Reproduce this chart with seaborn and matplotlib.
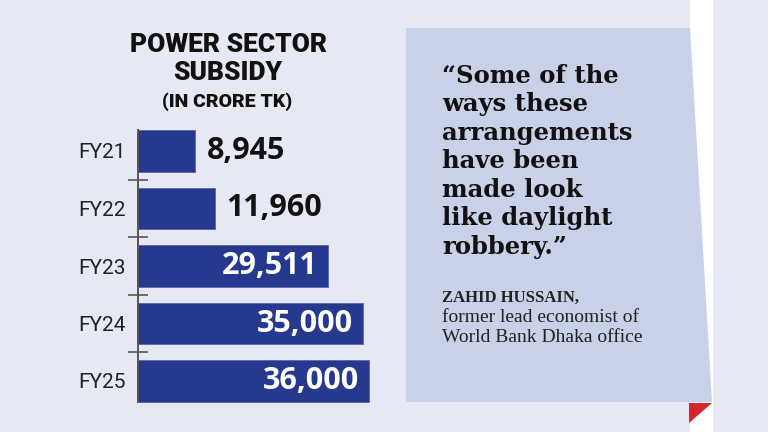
import numpy as np
import pandas as pd
import seaborn as sns
import matplotlib.pyplot as plt
from matplotlib.patches import Polygon, Rectangle

# data
years = ["FY21", "FY22", "FY23", "FY24", "FY25"]
subsidy = [8945, 11960, 29511, 35000, 36000]

title_lines = ["POWER SECTOR", "SUBSIDY"]
unit_line = "(IN CRORE TK)"
quote_lines = ["\u201cSome of the", "ways these", "arrangements", "have been",
               "made look", "like daylight", "robbery.\u201d"]
author = "ZAHID HUSSAIN,"
author_role = ["former lead economist of", "World Bank Dhaka office"]

BG = "#e6e9f4"
PANEL = "#c9d1e8"
BAR = "#27398f"

W, H = 768, 432

def px(x, y):
    return (x / W, 1 - y / H)

sns.set_theme(style="white")
plt.rcParams["font.family"] = ["Roboto", "DejaVu Sans"]

fig = plt.figure(figsize=(7.68, 4.32), dpi=100, facecolor=BG)

# right side quote card
fig.add_artist(Rectangle(px(690, 432), 23 / W, 1, transform=fig.transFigure,
                         facecolor="white", edgecolor="none", zorder=0))
fig.add_artist(Polygon([px(406, 28), px(690, 28), px(712, 402), px(406, 402)],
                       closed=True, transform=fig.transFigure,
                       facecolor=PANEL, edgecolor="none", zorder=1))
fig.add_artist(Polygon([px(689, 403), px(712, 403), px(689, 423)],
                       closed=True, transform=fig.transFigure,
                       facecolor="#d7262b", edgecolor="none", zorder=1))

# bar chart
ax = fig.add_axes([138 / W, 1 - 409.75 / H, 262 / W, 287.5 / H])
ax.set_facecolor("none")
df = pd.DataFrame({"year": years, "value": subsidy})
sns.barplot(data=df, x="value", y="year", orient="h", color=BAR,
            saturation=1, width=0.73, edgecolor="#5566aa", linewidth=0.6, ax=ax)
ax.set_xlim(0, 40800)
ax.set_ylim(4.5, -0.5)
ax.set_xlabel("")
ax.set_ylabel("")
ax.set_xticks([])
for s in ["top", "right", "bottom"]:
    ax.spines[s].set_visible(False)
ax.spines["left"].set_color("#555555")
ax.spines["left"].set_linewidth(1.4)
ax.spines["left"].set_bounds(-0.37, 4.37)
ax.tick_params(axis="y", which="major", left=False, length=0, pad=9,
               labelsize=15, labelcolor="#222222")
ax.set_yticks([0.5, 1.5, 2.5, 3.5], minor=True)
ax.tick_params(axis="y", which="minor", left=True, direction="inout",
               length=15, width=1.2, color="#555555")

for i, v in enumerate(subsidy):
    lab = f"{v:,}"
    if v < 20000:
        ax.text(v + 1800, i, lab, ha="left", va="center", color="#111111",
                fontsize=22, fontweight="bold", family=["Open Sans", "DejaVu Sans"])
    else:
        ax.text(v - 1500, i, lab, ha="right", va="center", color="white",
                fontsize=22, fontweight="bold", family=["Open Sans", "DejaVu Sans"])

# titles
fig.text(*px(228, 52), title_lines[0], ha="center", va="baseline", fontsize=19,
         fontweight="black", color="#111111")
fig.text(*px(228, 80), title_lines[1], ha="center", va="baseline", fontsize=19,
         fontweight="black", color="#111111")
fig.text(*px(227, 107), unit_line, ha="center", va="baseline", fontsize=14,
         fontweight="black", color="#111111")

# quote
for k, line in enumerate(quote_lines):
    fig.text(*px(442, 83 + 28.5 * k), line, ha="left", va="baseline",
             fontsize=17.5, fontweight="bold", color="#111111",
             family=["DejaVu Serif"])
fig.text(*px(442, 302), author, ha="left", va="baseline", fontsize=12,
         fontweight="bold", color="#222222", family=["Liberation Serif"])
for k, line in enumerate(author_role):
    fig.text(*px(442, 322 + 20 * k), line, ha="left", va="baseline",
             fontsize=14, color="#222222", family=["Liberation Serif"])

fig.savefig("out.png", dpi=100, facecolor=BG)
